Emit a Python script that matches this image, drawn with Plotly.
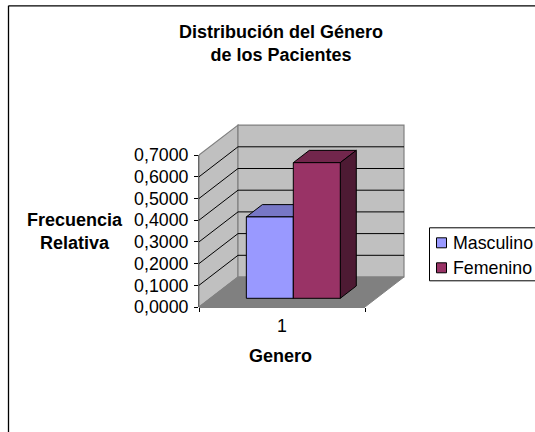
import plotly.graph_objects as go

categories = ["Masculino", "Femenino"]
values = [0.375, 0.625]
colors = ["#9999FF", "#993366"]
top_colors = ["#7777C6", "#72264C"]
side_colors = ["#4D4D80", "#4D1A33"]
y_ticks = [0, 0.1, 0.2, 0.3, 0.4, 0.5, 0.6, 0.7]

W, H = 535, 432
L, R, T, B = 199, 410, 119.7, 306.7   # plot area in pixels (a little wider than the walls)
XPX, YPX = 166, 217                   # pixels per axis unit
DX, DY = 39 / XPX, 30 / YPX           # depth vector in axis units
BAR_W = 0.283
D0, D1 = 0.29, 0.70                   # bar depth span (fraction of the floor)
FS = 17.8
FB = 18.0


def pr(x, v, d=0.0):
    return x + d * DX, v + d * DY


def poly(pts, fill=None, line="#000000", w=1.0):
    path = "M" + "L".join(f"{a:.4f},{b:.4f}" for a, b in pts) + "Z"
    return dict(type="path", path=path, xref="x", yref="y", layer="below",
                fillcolor=fill if fill else "rgba(0,0,0,0)",
                line=dict(color=line, width=w))


def seg(p, q, color="#000000", w=1.0):
    return dict(type="line", x0=p[0], y0=p[1], x1=q[0], y1=q[1], xref="x", yref="y",
                layer="below", line=dict(color=color, width=w))


def px(x):
    return (x - L) / (R - L)


def py(y):
    return (B - y) / (B - T)


shapes = []
top = y_ticks[-1]
# walls and floor
shapes.append(poly([pr(0, 0), pr(0, top), pr(0, top, 1), pr(0, 0, 1)], "#C0C0C0", "#808080", 1.2))
shapes.append(poly([pr(0, 0, 1), pr(0, top, 1), pr(1, top, 1), pr(1, 0, 1)], "#C0C0C0", "#808080", 1.2))
shapes.append(poly([pr(0, 0), pr(0, 0, 1), pr(1, 0, 1), pr(1, 0)], "#808080", "#808080", 1))
# gridlines
for t in y_ticks[1:-1]:
    shapes.append(seg(pr(0, t), pr(0, t, 1)))
    shapes.append(seg(pr(0, t, 1), pr(1, t, 1)))
# axis lines (paper reference on the axis side, so the plot edge does not clip them)
shapes.append(dict(type="line", xref="paper", x0=0, x1=0, yref="y", y0=0, y1=top, layer="below",
                   line=dict(color="#000000", width=1.2)))
shapes.append(dict(type="line", xref="x", x0=0, x1=1, yref="paper", y0=0, y1=0, layer="below",
                   line=dict(color="#000000", width=1.2)))

# bars
left = 0.5 + D0 * DX - BAR_W
base = D0 * DY
bar_x = [left + BAR_W * (i + 0.5) for i in range(len(values))]
depth = D1 - D0
for i, v in enumerate(values):
    x0, x1 = left + BAR_W * i, left + BAR_W * (i + 1)
    y1 = base + v
    shapes.append(poly([(x0, y1), pr(x0, y1, depth), pr(x1, y1, depth), (x1, y1)], top_colors[i]))
    shapes.append(poly([(x1, base), pr(x1, base, depth), pr(x1, y1, depth), (x1, y1)], side_colors[i]))

fig = go.Figure()
for i, name in enumerate(categories):
    fig.add_trace(go.Bar(x=[bar_x[i]], y=[values[i]], base=[base], width=[BAR_W], name=name,
                         marker=dict(color=colors[i], line=dict(color="#000000", width=1)),
                         showlegend=False))

# outer frame
shapes.append(dict(type="line", xref="paper", yref="paper", x0=px(8.5), x1=px(8.5), y0=py(5.5), y1=py(H),
                   line=dict(color="#000000", width=1.3)))
shapes.append(dict(type="line", xref="paper", yref="paper", x0=px(8.5), x1=px(W), y0=py(5.5), y1=py(5.5),
                   line=dict(color="#000000", width=1.3)))
# legend box and swatches
shapes.append(dict(type="rect", xref="paper", yref="paper", x0=px(429.5), x1=px(W + 3), y0=py(227.5), y1=py(280.5),
                   fillcolor="#FFFFFF", line=dict(color="#000000", width=1)))
annotations = []
for i, name in enumerate(categories):
    yc = 242.5 + 25 * i
    shapes.append(dict(type="rect", xref="paper", yref="paper", x0=px(436.5), x1=px(446.5), y0=py(yc - 5), y1=py(yc + 5),
                       fillcolor=colors[i], line=dict(color="#000000", width=1)))
    annotations.append(dict(text=name, xref="paper", yref="paper", x=px(451), y=py(yc), xanchor="left", yanchor="middle",
                            showarrow=False, font=dict(size=FS, color="#000000")))

bold = dict(size=FB, color="#000000")
annotations += [
    dict(text="<b>Distribución del Género<br>de los Pacientes</b>", xref="paper", yref="paper", x=px(281), y=py(43.5),
         xanchor="center", yanchor="middle", showarrow=False, font=bold),
    dict(text="<b>Frecuencia<br>Relativa</b>", xref="paper", yref="paper", x=px(75), y=py(231),
         xanchor="center", yanchor="middle", showarrow=False, font=bold),
    dict(text="<b>Genero</b>", xref="paper", yref="paper", x=px(280.5), y=py(356),
         xanchor="center", yanchor="middle", showarrow=False, font=bold),
]

fig.update_layout(
    width=W, height=H,
    margin=dict(l=L, r=W - R, t=T, b=H - B, pad=0),
    paper_bgcolor="#FFFFFF", plot_bgcolor="#FFFFFF",
    font=dict(family="Liberation Sans, Arial, sans-serif", size=FS, color="#000000"),
    separators=",.",
    barmode="overlay",
    showlegend=False,
    shapes=shapes,
    annotations=annotations,
    xaxis=dict(range=[0, (R - L) / XPX], tickvals=[0.5], ticktext=["1"], ticks="",
               showgrid=False, zeroline=False, showline=False,
               minor=dict(tickvals=[0, 1], ticks="outside", ticklen=4, tickcolor="#000000", showgrid=False),
               tickfont=dict(size=FS), ticklabelstandoff=6),
    yaxis=dict(range=[0, (B - T) / YPX], tickvals=y_ticks, tickformat=".4f", ticks="outside", ticklen=4,
               tickcolor="#000000", tickwidth=1, showgrid=False, zeroline=False, showline=False,
               tickfont=dict(size=FS), ticklabelstandoff=2),
)
fig.write_html("out.html", config={"displayModeBar": False},
               post_script="document.body.style.margin='0';document.body.style.overflow='hidden';")
